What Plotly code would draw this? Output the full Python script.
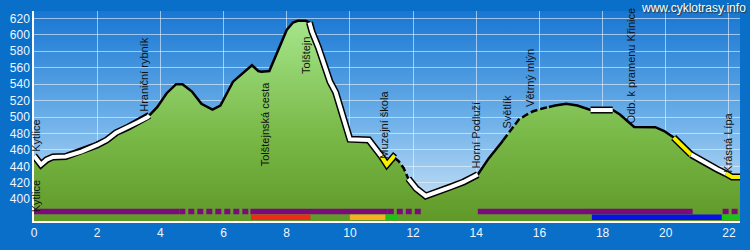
import base64
import numpy as np
import plotly.graph_objects as go

# ---------------- data ----------------
# elevation profile (km, m a.s.l.)
profile_km = [0.0, 0.1, 0.22, 0.4, 0.6, 1.0, 1.5, 2.0, 2.3, 2.6, 3.0, 3.3, 3.6, 3.9, 4.2, 4.5,
              4.7, 5.0, 5.3, 5.65, 5.9, 6.3, 6.6, 6.9, 7.1, 7.2, 7.45, 7.6, 7.8, 8.0, 8.2, 8.35,
              8.6, 8.72, 8.8, 9.0, 9.17, 9.37, 9.55, 9.75, 10.0, 10.6, 10.9, 11.17, 11.38, 11.55,
              11.7, 11.85, 12.1, 12.4, 12.8, 13.2, 13.6, 14.05, 14.4, 14.8, 15.1, 15.35, 15.6,
              15.8, 16.15, 16.5, 16.85, 17.2, 17.62, 18.32, 18.55, 18.8, 19.0, 19.67, 19.95,
              20.25, 20.5, 20.77, 21.2, 21.6, 21.94, 22.1, 22.35]
profile_elev = [453, 447, 442, 448, 451.5, 452, 458, 466, 472, 481, 488, 494, 500, 512, 529, 540,
                540, 531, 516, 509, 514, 543, 553, 563, 556, 555, 556, 570, 588, 606, 615, 617,
                617, 615, 604, 585, 566, 543, 530, 505, 473, 472, 458, 442, 451.5, 446,
                438, 425, 413, 404, 409, 415, 421, 430, 450, 469, 485, 497, 503,
                507, 511, 514, 516, 514, 508.5, 508.5, 503, 495, 488, 487.6, 483,
                475, 465, 455, 445, 437, 430.5, 427, 427]

# waypoints
wp_names = ["Kytlice", "Kytlice", "Hraniční rybník", "Tolštejnská cesta", "Tolštejn",
            "Muzejní škola", "Horní Podluží", "Světlík", "Větrný mlýn",
            "Odb. k pramenu Křinice", "Krásná Lípa"]
wp_km = [0.17, 0.17, 3.57, 7.39, 8.72, 11.17, 14.08, 15.07, 15.79, 18.99, 22.06]
wp_elev = [452, 438, 500, 558, 612, 443, 431.5, 480, 506, 486, 426]
wp_side = ["above", "below", "above", "below", "below", "above", "above", "above",
           "above", "above", "above"]

# route styling along the profile (km ranges)
white_segs = [(0.0, 3.65), (8.72, 11.0), (11.85, 14.05), (17.62, 18.32), (20.8, 21.9)]
yellow_segs = [(11.0, 11.42), (20.25, 20.8), (21.9, 22.35)]
dashed_segs = [(11.42, 11.85), (14.85, 16.3)]

# surface bars (km ranges)
purple_solid = [(0.0, 4.6), (6.85, 11.2), (14.05, 20.85)]
purple_dotted = [(4.6, 6.85), (11.2, 12.3), (21.8, 22.35)]
red_bars = [(6.87, 8.75)]
orange_bars = [(10.0, 11.13)]
green_bars = [(11.13, 11.5), (21.77, 22.35)]
blue_bars = [(17.66, 21.77)]

x_ticks = list(range(0, 23, 2))
y_ticks = list(range(400, 621, 20))

# ---------------- helpers ----------------
pk = np.array(profile_km)
pe = np.array(profile_elev)


def seg_path(segs):
    xs, ys = [], []
    for a, b in segs:
        inner = [k for k in profile_km if a < k < b]
        pts = [a] + inner + [b]
        xs += pts + [None]
        ys += list(np.interp(pts, pk, pe)) + [None]
    return xs, ys


def complement(segs, lo, hi):
    out, cur = [], lo
    for a, b in sorted(segs):
        if a > cur:
            out.append((cur, a))
        cur = b
    if cur < hi:
        out.append((cur, hi))
    return out


def bar_path(segs, yv):
    xs, ys = [], []
    for a, b in segs:
        xs += [a, b, None]
        ys += [yv, yv, None]
    return xs, ys


ROW1, ROW2 = 385, 378
X_MAX = 22.35

fig = go.Figure()

# terrain fill
fig.add_trace(go.Scatter(
    x=profile_km, y=profile_elev, mode="lines", fill="tozeroy",
    line=dict(width=0, color="rgba(0,0,0,0)"),
    fillgradient=dict(type="vertical", start=374, stop=620,
                      colorscale=[[0, "#5c9424"], [0.45, "#78b846"], [1, "#a6e68c"]]),
    hoverinfo="skip"))

# base profile line (solid parts)
sx, sy = seg_path(complement(dashed_segs, 0.0, X_MAX))
fig.add_trace(go.Scatter(x=sx, y=sy, mode="lines", line=dict(color="black", width=2.5),
                         hoverinfo="skip"))
dx, dy = seg_path(dashed_segs)
fig.add_trace(go.Scatter(x=dx, y=dy, mode="lines",
                         line=dict(color="black", width=2.5, dash="7px,3px"),
                         hoverinfo="skip"))

# highlighted route parts (outlined)
ox, oy = seg_path(white_segs + yellow_segs)
fig.add_trace(go.Scatter(x=ox, y=oy, mode="lines", line=dict(color="black", width=7),
                         hoverinfo="skip"))
wx, wy = seg_path(white_segs)
fig.add_trace(go.Scatter(x=wx, y=wy, mode="lines", line=dict(color="white", width=4),
                         hoverinfo="skip"))
yx, yy = seg_path(yellow_segs)
fig.add_trace(go.Scatter(x=yx, y=yy, mode="lines", line=dict(color="#f6f000", width=4),
                         hoverinfo="skip"))

# surface bars
for segs, col, row, dash in [
    (purple_solid, "#7d0a7d", ROW1, "solid"),
    (purple_dotted, "#7d0a7d", ROW1, "6px,3px"),
    (red_bars, "#ee2a1a", ROW2, "solid"),
    (orange_bars, "#f5b21e", ROW2, "solid"),
    (green_bars, "#19c419", ROW2, "solid"),
    (blue_bars, "#0a10e8", ROW2, "solid"),
]:
    bx, by = bar_path(segs, row)
    fig.add_trace(go.Scatter(x=bx, y=by, mode="lines",
                             line=dict(color=col, width=5.5, dash=dash),
                             hoverinfo="skip"))

# waypoint labels
for name, k, e, side in zip(wp_names, wp_km, wp_elev, wp_side):
    fig.add_annotation(x=k, y=e, xref="x", yref="y", text=name, showarrow=False,
                       textangle=-90, xanchor="center",
                       yanchor="bottom" if side == "above" else "top",
                       xshift=-3,
                       yshift=3 if side == "above" else -10,
                       font=dict(family="Liberation Sans, Arial, sans-serif", size=11,
                                 color="#111111"))

# site title
fig.add_annotation(x=1, y=1, xref="paper", yref="paper", text="www.cyklotrasy.info",
                   showarrow=False, xanchor="right", yanchor="middle", xshift=8, yshift=3,
                   font=dict(family="Liberation Sans, Arial, sans-serif", size=12,
                             color="white", shadow="1px 1px 1px #333333"))

# sky gradient background
svg = ('<svg xmlns="http://www.w3.org/2000/svg" width="10" height="100" viewBox="0 0 10 100" '
       'preserveAspectRatio="none"><defs><linearGradient id="g" x1="0" y1="0" x2="0" y2="1">'
       '<stop offset="0" stop-color="#1876d2"/><stop offset="0.5" stop-color="#6aaee8"/>'
       '<stop offset="1" stop-color="#d3e8f8"/></linearGradient></defs>'
       '<rect width="10" height="100" fill="url(#g)"/></svg>')
src = "data:image/svg+xml;base64," + base64.b64encode(svg.encode()).decode()
fig.add_layout_image(source=src, xref="paper", yref="paper", x=0, y=1, sizex=1, sizey=1,
                     sizing="stretch", xanchor="left", yanchor="top", layer="below")

tickfont = dict(family="Liberation Sans, Arial, sans-serif", size=12, color="#eef6ff")
fig.update_layout(
    width=750, height=250,
    margin=dict(l=30, r=10, t=11, b=15),
    paper_bgcolor="#0a6fc9", plot_bgcolor="#5aa5e5",
    showlegend=False, hovermode=False,
    xaxis=dict(range=[0, X_MAX], tickvals=x_ticks, showgrid=True,
               gridcolor="rgba(235,245,255,0.6)", gridwidth=1, zeroline=False,
               showline=True, linecolor="white", linewidth=1.5, ticks="",
               tickfont=tickfont, fixedrange=True),
    yaxis=dict(range=[373.5, 629], tickvals=y_ticks, showgrid=True,
               gridcolor="rgba(235,245,255,0.6)", gridwidth=1, zeroline=False,
               showline=True, linecolor="white", linewidth=1.5, ticks="",
               tickfont=tickfont, fixedrange=True),
)

fig.write_html("out.html")
